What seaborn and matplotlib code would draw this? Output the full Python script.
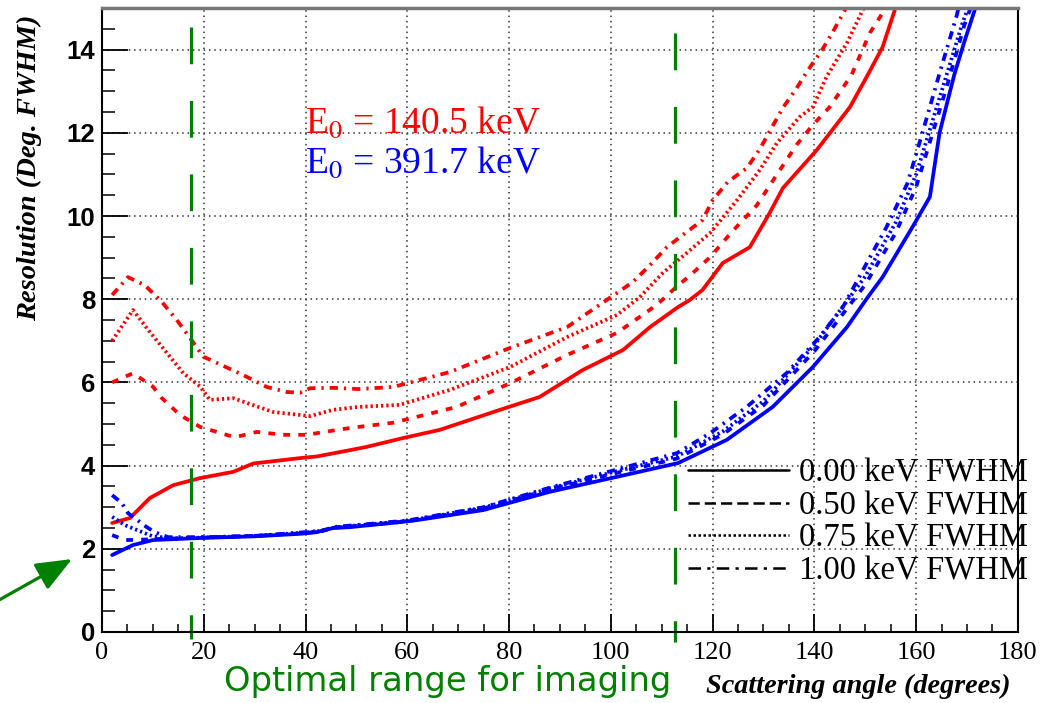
import matplotlib
matplotlib.use('Agg')
import matplotlib.pyplot as plt
from matplotlib.lines import Line2D
from matplotlib.ticker import MultipleLocator
import pandas as pd
import seaborn as sns

# --- data (angle in degrees, resolution in deg. FWHM) ---
# E0 = 140.5 keV
red_000_x = [2, 5.5, 9.4, 14, 19.3, 25.8, 29.7, 38.9, 42.2, 48.7, 52, 59.1, 66.4, 78.2, 86, 94.5,
             102.4, 107.7, 113.2, 115.5, 118, 122, 127.3, 131.2, 133.8, 140.5, 147, 150.3, 153.4,
             155.8, 156.2]
red_000_y = [2.62, 2.74, 3.22, 3.53, 3.70, 3.85, 4.05, 4.18, 4.22, 4.37, 4.45, 4.66, 4.86, 5.34, 5.65,
             6.30, 6.78, 7.33, 7.81, 7.98, 8.22, 8.87, 9.25, 10.07, 10.67, 11.59, 12.62, 13.35,
             14.06, 14.95, 15.2]
red_050_x = [2, 6.1, 10, 11.7, 15.3, 19.3, 26.1, 30.4, 35.6, 40.2, 46.8, 50.4, 57.2, 69.7, 80.2,
             91.4, 101.2, 109, 112.2, 116.1, 119.5, 123.8, 128.7, 132.6, 136.5, 139.7, 143, 147.3,
             150.9, 153.4, 154]
red_050_y = [6.0, 6.22, 5.9, 5.63, 5.22, 4.93, 4.68, 4.81, 4.74, 4.74, 4.87, 4.93, 5.03, 5.41, 5.98,
             6.66, 7.19, 7.86, 8.22, 8.63, 9.01, 9.62, 10.26, 10.99, 11.71, 12.19, 12.62, 13.39,
             14.4, 14.88, 15.1]
red_075_x = [2, 6.1, 9.1, 16, 19.3, 21.2, 25.8, 33.6, 40.9, 45.4, 50.4, 58.5, 68.4, 80.2, 91.4,
             101.2, 105.7, 110.2, 114.9, 119.5, 124.8, 129.3, 132.6, 137.1, 139.7, 142.4, 146.4,
             149.5, 150]
red_075_y = [7.0, 7.74, 7.26, 6.22, 5.9, 5.58, 5.62, 5.29, 5.19, 5.34, 5.41, 5.46, 5.82, 6.37, 7.09,
             7.62, 8.05, 8.63, 9.11, 9.59, 10.38, 11.11, 11.75, 12.38, 12.62, 13.35, 14.16, 14.95,
             15.1]
red_100_x = [2, 5.1, 8.4, 11.8, 14.7, 17.3, 19.9, 27.7, 32.4, 36.3, 38.9, 40.9, 45.4, 50.4, 57.2,
             68.4, 80.2, 91.4, 101.2, 104.3, 107.7, 111, 114.1, 118, 120, 123, 126.7, 129.3, 131.6,
             133.8, 136.5, 138.7, 141.5, 143.6, 146, 146.5]
red_100_y = [8.1, 8.53, 8.34, 7.93, 7.5, 7.07, 6.62, 6.18, 5.89, 5.77, 5.75, 5.86, 5.87, 5.84, 5.89,
             6.25, 6.83, 7.33, 8.15, 8.41, 8.82, 9.25, 9.54, 9.9, 10.38, 10.82, 11.15, 11.61, 12.12,
             12.6, 13.07, 13.5, 13.99, 14.42, 14.95, 15.1]

# E0 = 391.7 keV
blue_000_x = [2, 6.1, 10, 19.3, 30, 38.9, 42.2, 45.4, 48.7, 58.5, 61.9, 74.9, 88, 101.2, 113.2,
              122.8, 131.8, 139.7, 146.4, 150.5, 153.4, 159.3, 162.7, 164.6, 167.5, 169.5, 171.5, 172]
blue_000_y = [1.85, 2.09, 2.21, 2.26, 2.30, 2.36, 2.40, 2.50, 2.52, 2.64, 2.69, 2.93, 3.37, 3.73,
              4.06, 4.62, 5.41, 6.37, 7.33, 8.05, 8.53, 9.74, 10.46, 12.0, 13.4, 14.2, 14.95, 15.1]
blue_050_x = [2, 4.5, 8, 12, 20, 30, 40, 43, 46, 50, 60, 75, 88, 101, 113, 122, 130, 140, 150, 156,
              160, 163, 166, 169.5, 171]
blue_050_y = [2.33, 2.21, 2.22, 2.24, 2.27, 2.31, 2.38, 2.42, 2.51, 2.55, 2.66, 2.97, 3.43, 3.82,
              4.17, 4.75, 5.45, 6.75, 8.35, 9.6, 10.7, 11.9, 13.1, 14.6, 15.1]
blue_075_x = [2, 4.5, 6.9, 10, 14, 20, 30, 40, 43, 46, 50, 60, 75, 88, 101, 113, 122, 130, 140, 150,
              156, 160, 163, 166, 169, 170.5]
blue_075_y = [2.77, 2.57, 2.45, 2.3, 2.25, 2.27, 2.31, 2.39, 2.43, 2.52, 2.56, 2.67, 2.99, 3.45,
              3.86, 4.22, 4.82, 5.55, 6.9, 8.55, 9.85, 11.0, 12.2, 13.4, 14.6, 15.1]
blue_100_x = [2, 3.9, 5.1, 8.8, 10.4, 13, 20, 30, 40, 43, 46, 50, 60, 75, 88, 101, 113, 119.5,
              126.7, 134.6, 141, 145.6, 150.3, 154.2, 158.3, 161, 164.6, 168, 168.5]
blue_100_y = [3.29, 3.1, 2.86, 2.52, 2.4, 2.28, 2.28, 2.31, 2.4, 2.43, 2.53, 2.57, 2.68, 3.0, 3.47,
              3.9, 4.3, 4.78, 5.41, 6.23, 7.09, 7.81, 8.87, 9.74, 10.79, 11.9, 13.43, 14.83, 15.1]

energies = ['140.5', '391.7']
fwhm_levels = ['0.00', '0.50', '0.75', '1.00']
legend_labels = ['0.00 keV FWHM', '0.50 keV FWHM', '0.75 keV FWHM', '1.00 keV FWHM']
x_ticks = [0, 20, 40, 60, 80, 100, 120, 140, 160, 180]
y_ticks = [0, 2, 4, 6, 8, 10, 12, 14]
optimal_range = [17.5, 112.6]

series = {
    ('140.5', '0.00'): (red_000_x, red_000_y),
    ('140.5', '0.50'): (red_050_x, red_050_y),
    ('140.5', '0.75'): (red_075_x, red_075_y),
    ('140.5', '1.00'): (red_100_x, red_100_y),
    ('391.7', '0.00'): (blue_000_x, blue_000_y),
    ('391.7', '0.50'): (blue_050_x, blue_050_y),
    ('391.7', '0.75'): (blue_075_x, blue_075_y),
    ('391.7', '1.00'): (blue_100_x, blue_100_y),
}
frames = []
for (energy, fwhm), (xs, ys) in series.items():
    frames.append(pd.DataFrame({'angle': xs, 'resolution': ys, 'energy': energy, 'fwhm': fwhm}))
df = pd.concat(frames, ignore_index=True)

sns.set_style('white')
plt.rcParams['font.family'] = ['Liberation Serif', 'DejaVu Sans']
plt.rcParams['mathtext.fontset'] = 'stix'
plt.rcParams['text.color'] = 'black'
plt.rcParams['axes.labelcolor'] = 'black'
plt.rcParams['xtick.color'] = 'black'
plt.rcParams['ytick.color'] = 'black'

fig = plt.figure(figsize=(10.61, 7.03), dpi=100)
ax = fig.add_axes([0.0961, 0.101, 0.8633, 0.8876])

palette = {'140.5': '#ff0000', '391.7': '#0000ff'}
dash_map = {'0.00': '', '0.50': (1.8, 2.2), '0.75': (0.6, 0.8), '1.00': (2.2, 1.6, 0.6, 1.6)}
sns.lineplot(data=df, x='angle', y='resolution', hue='energy', style='fwhm',
             hue_order=energies, style_order=fwhm_levels, palette=palette, dashes=dash_map,
             estimator=None, sort=False, lw=2.7, legend=False, ax=ax)

ax.set_xlim(0, 180)
ax.set_ylim(0, 15)
ax.set_xticks(x_ticks)
ax.set_xticklabels([str(t) for t in x_ticks], fontfamily='Liberation Serif', fontsize=19,
                   color='black')
ax.set_yticks(y_ticks)
ax.set_yticklabels([str(t) for t in y_ticks], fontfamily='Liberation Sans', fontweight='bold',
                   fontsize=18.5, color='black')
ax.xaxis.set_minor_locator(MultipleLocator(5))
ax.yaxis.set_minor_locator(MultipleLocator(0.5))
ax.tick_params(axis='y', which='major', direction='in', length=19, width=1.3, pad=5)
ax.tick_params(axis='y', which='minor', direction='in', length=9.5, width=1.1)
ax.tick_params(axis='x', which='major', direction='in', length=13, width=1.3, pad=7)
ax.tick_params(axis='x', which='minor', direction='in', length=6, width=1.1)
ax.tick_params(left=True, bottom=True, which='both', color='black')

ax.grid(True, which='major', color='#333333', linestyle=(0, (1, 2.5)), lw=1.1)
ax.set_axisbelow(True)
for side in ['left', 'bottom', 'right', 'top']:
    ax.spines[side].set_color('black')
    ax.spines[side].set_linewidth(1.5)
ax.spines['top'].set_color('#777777')
ax.spines['top'].set_linewidth(2.5)

ax.set_ylabel('Resolution (Deg. FWHM)', fontsize=20.5, fontweight='bold', fontstyle='italic',
              va='center', color='black')
ax.yaxis.set_label_coords(-0.0786, 0.744)
ax.set_xlabel('Scattering angle (degrees)', fontsize=20.3, fontweight='bold', fontstyle='italic',
              va='center', color='black')
ax.xaxis.set_label_coords(0.8258, -0.0865)

ax.text(39.9, 12.0, 'E$_0$ = 140.5 keV', color='#ff0000', fontsize=27, va='baseline')
ax.text(39.9, 11.03, 'E$_0$ = 391.7 keV', color='#0000ff', fontsize=27, va='baseline')

# optimal imaging range markers
ax.plot([optimal_range[0]] * 2, [14.54, -0.17], color='#008000', lw=2.3, dashes=(11.5, 11.5),
        clip_on=False)
ax.plot([optimal_range[1]] * 2, [14.40, -0.25], color='#008000', lw=2.3, dashes=(11.5, 11.5),
        clip_on=False)
fig.text(448 / 1061, 1 - 682 / 703, 'Optimal range for imaging', color='#008000',
         fontfamily='DejaVu Sans', fontsize=24.3, ha='center', va='center')
ax.annotate('', xy=(0.0679, 0.2048), xycoords='figure fraction',
            xytext=(-0.005, 0.143), textcoords='figure fraction', annotation_clip=False,
            arrowprops=dict(arrowstyle='-|>,head_length=1.1,head_width=0.45', color='#008000',
                            lw=2.3, shrinkA=0, shrinkB=0, mutation_scale=20))

legend_dashes = ['', (4.5, 2), (1, 1), (5, 2.5, 1.3, 2.5)]
handles = []
for d in legend_dashes:
    if d == '':
        handles.append(Line2D([0], [0], color='black', lw=1.8))
    else:
        handles.append(Line2D([0], [0], color='black', lw=1.8, dashes=d))
leg = ax.legend(handles, legend_labels, loc='center left', bbox_to_anchor=(0.64, 0.176),
                frameon=False, fontsize=23.5, handlelength=3.1, handletextpad=0.3,
                labelspacing=0.07, borderpad=0, borderaxespad=0)
for t in leg.get_texts():
    t.set_color('black')

fig.savefig('out.png', dpi=100)
